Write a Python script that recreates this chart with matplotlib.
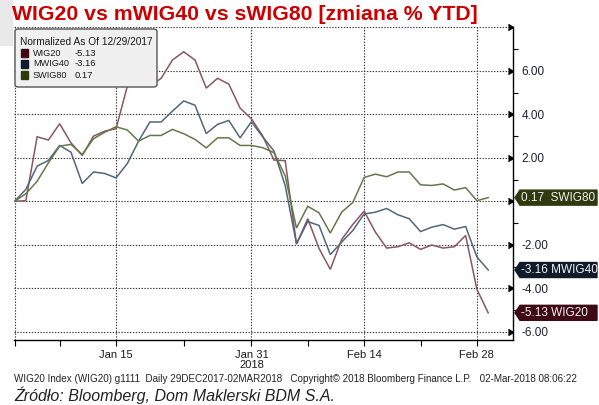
import numpy as np
import matplotlib
matplotlib.use("Agg")
import matplotlib.pyplot as plt
from matplotlib.patches import Polygon, FancyBboxPatch, Rectangle
from matplotlib.ticker import FixedLocator, FuncFormatter

# normalized % change since 12/29/2017, one value per trading day
wig20 = [0.00, 0.03, 2.97, 2.82, 3.57, 2.69, 2.11, 3.00, 3.23, 3.34,
         5.30, 5.66, 5.31, 5.66, 6.50, 6.88, 6.50, 5.21, 5.66, 5.39,
         4.29, 3.80, 3.01, 1.90, 1.87, -1.97, -0.80, -2.17, -3.13, -1.76,
         -1.06, -0.45, -1.42, -2.15, -2.09, -1.91, -2.21, -2.01, -2.15, -2.09,
         -1.57, -4.05, -5.13]
mwig40 = [0.00, 0.55, 1.62, 1.88, 2.57, 2.26, 0.82, 1.35, 1.28, 1.08,
          1.74, 2.77, 3.65, 3.65, 4.15, 4.62, 4.42, 3.12, 3.54, 3.72,
          2.92, 3.66, 2.97, 2.32, 0.72, -1.95, -0.93, -1.11, -2.45, -1.88,
          -1.34, -0.58, -0.50, -0.33, -0.62, -0.80, -1.39, -1.19, -1.07, -1.28,
          -1.16, -2.56, -3.16]
swig80 = [0.00, 0.35, 0.92, 1.77, 2.54, 2.62, 2.15, 2.88, 3.18, 3.43,
          3.28, 2.77, 3.03, 3.03, 3.31, 3.11, 2.85, 2.46, 2.92, 2.92,
          2.57, 2.57, 2.47, 2.24, 1.17, -1.23, -0.23, -0.53, -1.46, -0.50,
          -0.05, 1.10, 1.25, 1.13, 1.35, 1.35, 0.76, 0.73, 0.80, 0.52,
          0.63, 0.03, 0.17]

names = ["WIG20", "MWIG40", "SWIG80"]
line_colors = ["#8a5761", "#52667a", "#65784a"]
tag_colors = ["#3e0a14", "#0f1b2b", "#2c3a0d"]

# x-axis (trading day index)
label_pos = [0, 9, 21, 31, 41]
label_txt = ["", "Jan 15", "Jan 31", "Feb 14", "Feb 28"]
minor_pos = [4, 15, 26, 36]

W, H = 599, 405
font = "Liberation Sans"


def fx(px):
    return px / W


def fy(py):
    return 1 - py / H


fig = plt.figure(figsize=(W / 100, H / 100), dpi=100)
fig.patch.set_facecolor("white")
fig.patches.append(Rectangle((0, fy(45)), fx(12), 45 / H, transform=fig.transFigure,
                             color="#e9e9e9", zorder=0))

ax = fig.add_axes([fx(14), fy(340), fx(513 - 14), (340 - 27) / H])
x = np.arange(len(wig20))
series = [wig20, mwig40, swig80]
for vals, c in zip(series, line_colors):
    ax.plot(x, vals, color=c, lw=1.1, solid_joinstyle="miter")

ax.set_xlim(-0.05, 44.2)
ax.set_ylim(-6.38, 8.02)

for s in ["left", "top"]:
    ax.spines[s].set_visible(False)
ax.spines["right"].set_linewidth(1.0)
ax.spines["bottom"].set_linewidth(1.0)

# x ticks
ax.set_xticks(label_pos)
ax.set_xticklabels(label_txt, fontsize=8, family=font, color="#1a1a1a")
ax.xaxis.set_minor_locator(FixedLocator(minor_pos))
ax.tick_params(axis="x", which="both", direction="out", length=4, width=0.8, pad=3)
ax.text(21, -0.08, "2018", transform=ax.get_xaxis_transform(), ha="center", va="center",
        fontsize=8, family=font, color="#1a1a1a")

# y ticks on the right
yt = list(range(-6, 9, 2))
ax.set_yticks(yt)
ax.yaxis.tick_right()
ax.yaxis.set_major_formatter(FuncFormatter(lambda v, p: "" if v in (0, 8) else f"{v:.2f}"))
ax.yaxis.set_minor_locator(FixedLocator([-5, -3, -1, 1, 3, 5, 7]))
ax.tick_params(axis="y", which="major", length=0, pad=6, labelsize=8.5, labelcolor="#1a2030")
ax.tick_params(axis="y", which="minor", direction="out", length=3.5, width=0.8)
for lbl in ax.get_yticklabels():
    lbl.set_family(font)
ax.plot(np.ones(len(yt)), yt, ls="none", marker=5, ms=5, color="black",
        transform=ax.get_yaxis_transform(), clip_on=False)

# dotted grid
ax.grid(True, which="major", linestyle=(0, (1.2, 1.4)), color="#333333", lw=0.8)

# last-value tags
for name, vals, c in zip(names, series, tag_colors):
    yc = fig.transFigure.inverted().transform(ax.transData.transform((0, vals[-1])))[1]
    h = 7.5 / H
    pts = [(fx(515), yc), (fx(520), yc + h), (fx(597), yc + h), (fx(597), yc - h), (fx(520), yc - h)]
    fig.patches.append(Polygon(pts, closed=True, transform=fig.transFigure, color=c, zorder=5))
    sep = "  " if vals[-1] >= 0 else " "
    fig.text(fx(521), yc, f"{vals[-1]:.2f}{sep}{name}", color="#f2f2f2", fontsize=8.5,
             family=font, va="center", ha="left", zorder=6)

# legend box
fig.patches.append(FancyBboxPatch((fx(15), fy(87)), fx(142), 58 / H, transform=fig.transFigure,
                                  boxstyle="round,pad=0,rounding_size=0.006",
                                  facecolor="#f0f0f0", edgecolor="#555555", lw=1.0, zorder=5))
fig.text(fx(20), fy(42), "Normalized As Of 12/29/2017", fontsize=7.25, family=font,
         color="#1a1a1a", va="center", zorder=6)
for i, (name, vals, c) in enumerate(zip(names, series, tag_colors)):
    yc = 53 + 11 * i
    fig.patches.append(Rectangle((fx(21), fy(yc + 4)), fx(7), 8 / H, transform=fig.transFigure,
                                 color=c, zorder=6))
    fig.text(fx(33), fy(yc), name, fontsize=6.6, family=font, color="#1a1a1a", va="center", zorder=6)
    fig.text(fx(75), fy(yc), f"{vals[-1]:.2f}", fontsize=6.8, family=font, color="#1a1a1a",
             va="center", zorder=6)

# title and footers
fig.text(fx(12), fy(14), "WIG20 vs mWIG40 vs sWIG80 [zmiana % YTD]", fontsize=15.3,
         weight="bold", color="#cc0000", family=font, va="center")
fig.text(fx(14), fy(379), "WIG20 Index (WIG20) g1111  Daily 29DEC2017-02MAR2018   "
         "Copyright\u00a9 2018 Bloomberg Finance L.P.   02-Mar-2018 08:06:22",
         fontsize=7.1, family=font, color="#222222", va="center")
fig.text(fx(14), fy(395), "Źródło: Bloomberg, Dom Maklerski BDM S.A.", fontsize=11.5,
         style="italic", family=font, color="#222222", va="center")

fig.savefig("out.png", dpi=100)
